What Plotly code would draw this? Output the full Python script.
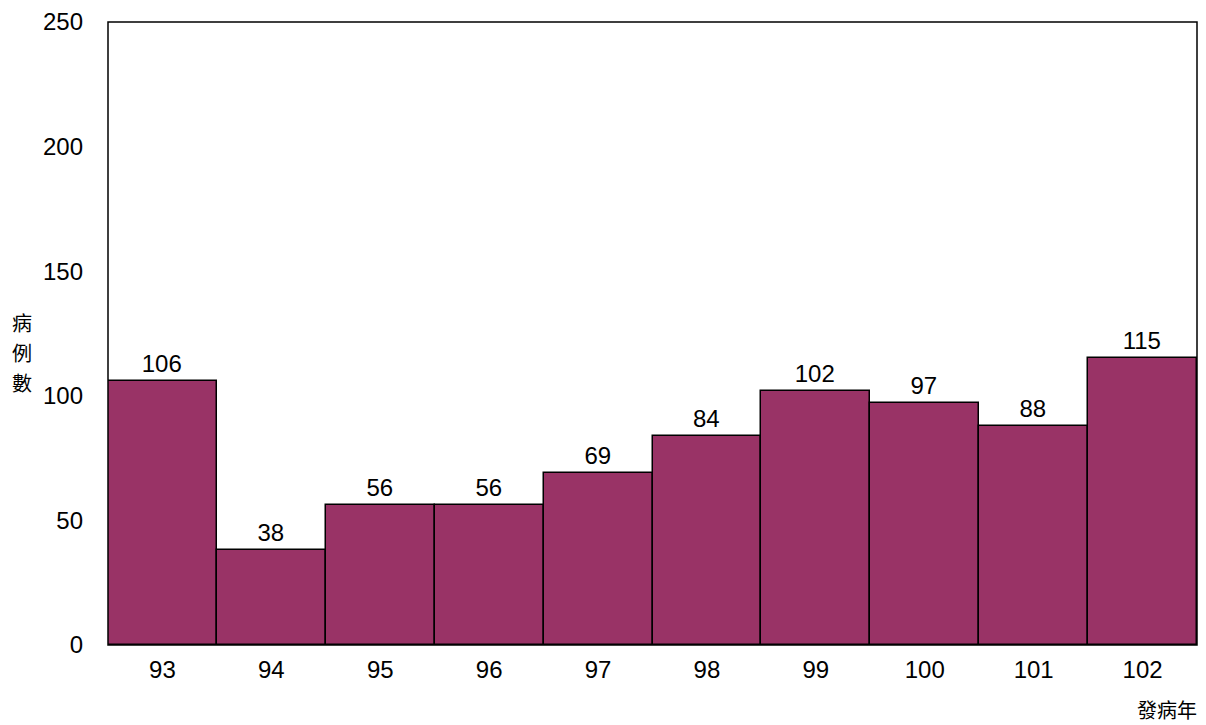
import plotly.graph_objects as go

years = ["93", "94", "95", "96", "97", "98", "99", "100", "101", "102"]
cases = [106, 38, 56, 56, 69, 84, 102, 97, 88, 115]
y_ticks = [0, 50, 100, 150, 200, 250]
y_title_chars = ["病", "例", "數"]
x_title = "發病年"

fig = go.Figure()
fig.add_trace(go.Bar(
    x=years, y=cases, width=1.0,
    marker=dict(color="#993366", line=dict(color="black", width=1.5)),
    text=[str(v) for v in cases], textposition="outside",
    textfont=dict(family="Liberation Sans, Arial", size=24, color="black"),
    cliponaxis=False,
))

# page body has an 8px margin, so the figure is made 8px smaller and margins compensate
fig.update_layout(
    width=1198, height=717,
    margin=dict(l=100, r=9, t=14, b=80, autoexpand=False),
    paper_bgcolor="white", plot_bgcolor="white",
    showlegend=False, bargap=0,
    font=dict(family="Liberation Sans, Arial", size=24, color="black"),
    xaxis=dict(type="category", showgrid=False, ticks="", showline=False,
               tickfont=dict(size=24), ticklabelstandoff=8),
    yaxis=dict(range=[0, 250], tickvals=y_ticks, showgrid=False, ticks="", showline=False,
               tickfont=dict(size=24), zeroline=False, ticklabelstandoff=24),
)

fig.add_shape(type="rect", xref="paper", yref="paper", x0=0, y0=0, x1=1, y1=1,
              line=dict(color="black", width=1.5), layer="above")

for ch, yp in zip(y_title_chars, [0.518, 0.469, 0.421]):
    fig.add_annotation(text=ch, xref="paper", yref="paper", x=-0.079, y=yp,
                       xanchor="center", yanchor="middle", showarrow=False,
                       font=dict(family="Noto Sans CJK TC", size=20, color="black"))
fig.add_annotation(text=x_title, xref="paper", yref="paper", x=0.972, y=-0.103,
                   xanchor="center", yanchor="middle", showarrow=False,
                   font=dict(family="Noto Sans CJK TC", size=20, color="black"))

fig.write_html("out.html")
